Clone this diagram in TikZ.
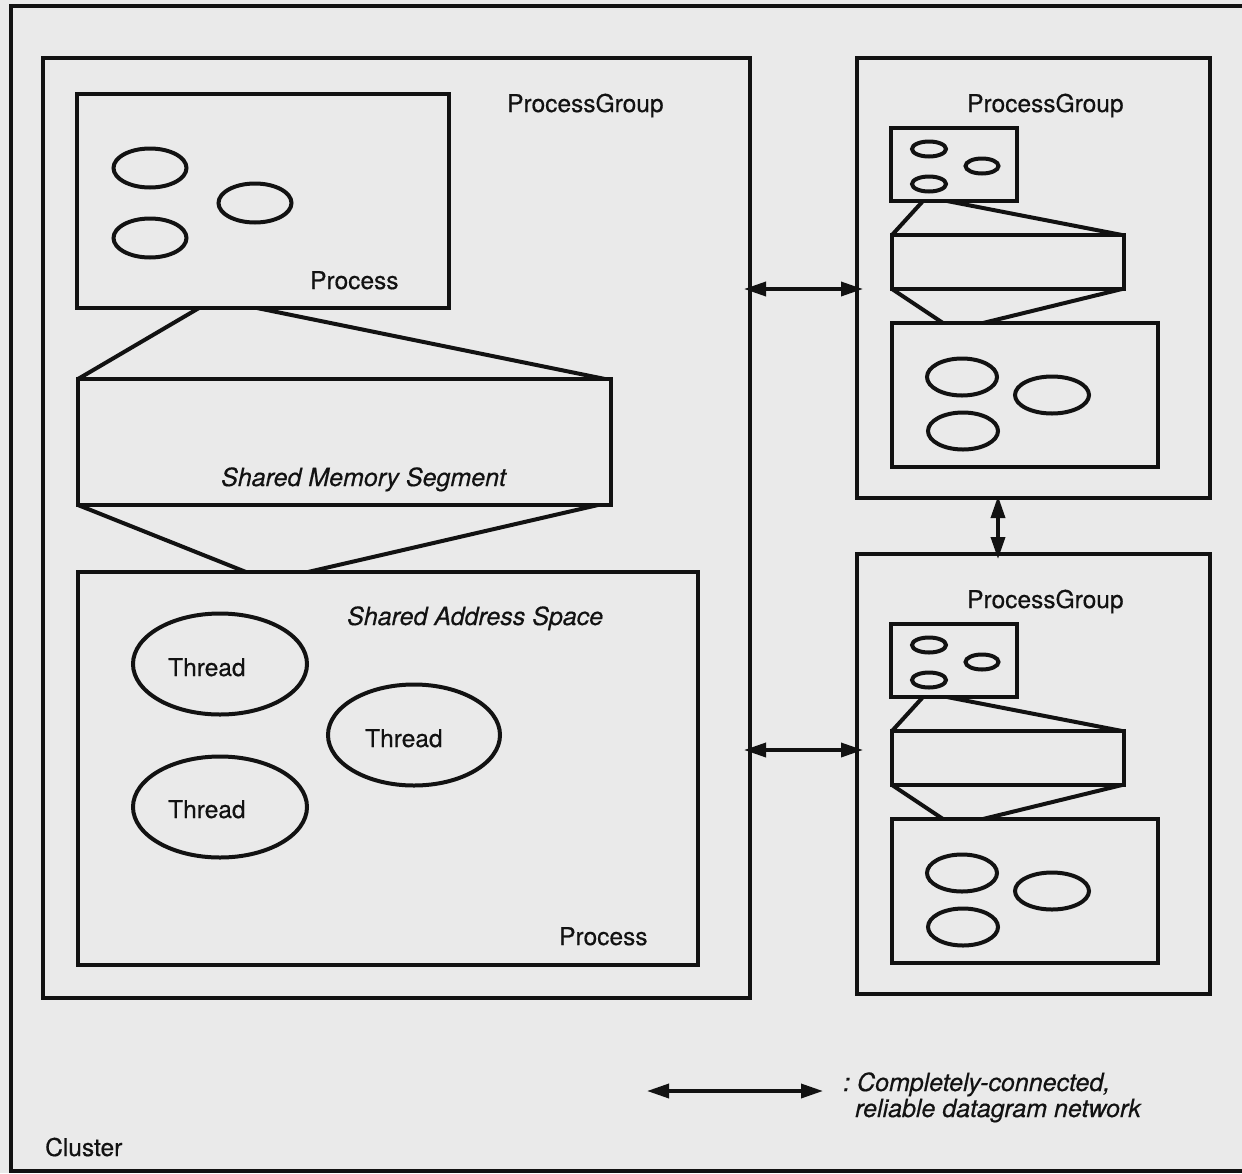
\documentclass[tikz,border=0pt]{standalone}
\usepackage{fontspec}
\setmainfont[FakeBold=0.5]{TeX Gyre Heros}
\usetikzlibrary{arrows.meta,shapes.geometric}
\definecolor{paper}{RGB}{234,234,234}
\definecolor{ink}{RGB}{18,18,18}

\tikzset{
  box/.style={draw=ink, line width=4.5pt, rectangle, inner sep=0pt, outer sep=0pt, anchor=north west},
  oval/.style={draw=ink, line width=4pt, ellipse, inner sep=0pt, outer sep=0pt},
  wire/.style={draw=ink, line width=4pt, line cap=round},
  link/.style={draw=ink, line width=3.5pt,
    {Triangle[length=22pt,width=14pt]}-{Triangle[length=22pt,width=14pt]}},
  lbl/.style={text=ink, inner sep=0pt, anchor=base west, font=\fontsize{24.5}{22}\selectfont},
  ilbl/.style={lbl, font=\fontsize{25}{22}\selectfont\itshape},
  % a remote process group: small process, shared segment, larger process
  pics/pgroup/.style={code={
    \node[box, minimum width=353pt, minimum height=440pt] (-box) at (857,58) {};
    \node[lbl] (-name) at (967,112) {ProcessGroup};
    \node[box, minimum width=126pt, minimum height=73pt] (-sp) at (891,128) {};
    \node[oval, minimum width=34pt, minimum height=15pt] (-s1) at (929,149) {};
    \node[oval, minimum width=33pt, minimum height=15pt] (-s2) at (982,166) {};
    \node[oval, minimum width=34pt, minimum height=15pt] (-s3) at (929,184) {};
    \node[box, minimum width=232pt, minimum height=54pt] (-seg) at (892,235) {};
    \node[box, minimum width=266pt, minimum height=144pt] (-lp) at (892,323) {};
    \node[oval, minimum width=70pt, minimum height=37pt] (-l1) at (962,377) {};
    \node[oval, minimum width=74pt, minimum height=37pt] (-l2) at (1052,395) {};
    \node[oval, minimum width=70pt, minimum height=37pt] (-l3) at (963,431) {};
    \draw[wire] ([xshift=32pt]-sp.south west) -- (-seg.north west);
    \draw[wire] ([xshift=56pt]-sp.south west) -- ([xshift=-2pt]-seg.north east);
    \draw[wire] (-seg.south west) -- ([xshift=51pt]-lp.north west);
    \draw[wire] ([xshift=-2pt]-seg.south east) -- ([xshift=91pt]-lp.north west);
  }}
}

\begin{document}
\begin{tikzpicture}[x=1pt,y=-1pt]
  \useasboundingbox (0,0) rectangle (1242,1173);
  \fill[paper] (0,0) rectangle (1242,1173);
  \clip (0,0) rectangle (1242,1173);

  % cluster frame (runs off the right edge)
  \node[box, minimum width=1260pt, minimum height=1165pt] (cluster) at (11,6) {};
  \node[lbl] (clusterlbl) at (45,1156) {Cluster};

  % local process group
  \node[box, minimum width=707pt, minimum height=940pt] (pg) at (43,58) {};
  \node[lbl] (pglbl) at (507,112) {ProcessGroup};

  \node[box, minimum width=372pt, minimum height=214pt] (p1) at (77,94) {};
  \node[oval, minimum width=73pt, minimum height=39pt] (e1) at (150,168) {};
  \node[oval, minimum width=73pt, minimum height=39pt] (e2) at (255,203) {};
  \node[oval, minimum width=73pt, minimum height=39pt] (e3) at (150,238) {};
  \node[lbl] (p1lbl) at (310,289) {Process};

  \node[box, minimum width=533pt, minimum height=126pt] (sms) at (78,379) {};
  \node[ilbl] (smslbl) at (221,486) {Shared Memory Segment};

  \node[box, minimum width=620pt, minimum height=393pt] (p2) at (78,572) {};
  \node[ilbl] (saslbl) at (347,625) {Shared Address Space};
  \node[oval, minimum width=174pt, minimum height=101pt] (t1) at (220,664) {};
  \node[oval, minimum width=172pt, minimum height=101pt] (t2) at (414,735) {};
  \node[oval, minimum width=174pt, minimum height=101pt] (t3) at (220,807) {};
  \node[lbl] (t1lbl) at (168,676) {Thread};
  \node[lbl] (t2lbl) at (365,747) {Thread};
  \node[lbl] (t3lbl) at (168,818) {Thread};
  \node[lbl] (p2lbl) at (559,945) {Process};

  \draw[wire] ([xshift=122pt]p1.south west) -- (sms.north west);
  \draw[wire] ([xshift=180pt]p1.south west) -- ([xshift=-6pt]sms.north east);
  \draw[wire] (sms.south west) -- ([xshift=168pt]p2.north west);
  \draw[wire] ([xshift=-13pt]sms.south east) -- ([xshift=230pt]p2.north west);

  % remote process groups
  \pic (A) at (0,0) {pgroup};
  \pic (B) at (0,496) {pgroup};

  % network links
  \coordinate (ya) at (0,289);
  \coordinate (yb) at (0,750);
  \draw[link, shorten <=-6pt, shorten >=-6pt] (pg.east |- ya) -- (A-box.west |- ya);
  \draw[link, shorten <=-6pt, shorten >=-6pt] (pg.east |- yb) -- (B-box.west |- yb);
  \coordinate (xv) at (998,0);
  \draw[link, shorten <=-2pt, shorten >=-5pt] (A-box.south -| xv) -- (B-box.north -| xv);

  % legend
  \coordinate (k1) at (647,1091);
  \coordinate (k2) at (823,1091);
  \draw[link] (k1) -- (k2);
  \node[ilbl] (key1) at (843,1091) {:\ Completely-connected,};
  \node[ilbl] (key2) at (855,1117) {reliable datagram network};
\end{tikzpicture}
\end{document}
